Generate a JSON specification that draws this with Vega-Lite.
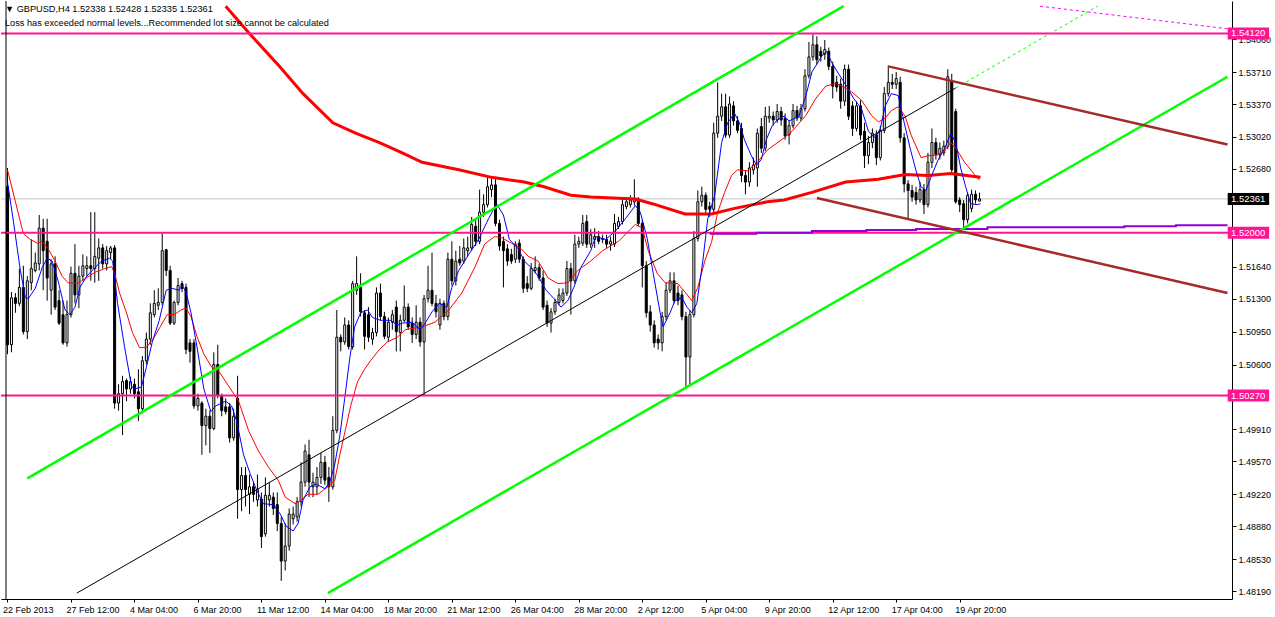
{
"$schema":"https://vega.github.io/schema/vega-lite/v6.json",
"width":1231,"height":598,
"autosize":{"type":"none"},
"padding":{"left":1,"top":1,"right":43,"bottom":18},
"background":"white",
"config":{"view":{"stroke":null},"axis":{"labelFont":"Liberation Sans","labelFontSize":9,"labelColor":"#000000","tickColor":"#000000","domainColor":"#000000","domainWidth":1,"tickWidth":1,"grid":false}},
"title":{"text":["▼ GBPUSD,H4  1.52338 1.52428 1.52335 1.52361","Loss has exceeded normal levels...Recommended lot size cannot be calculated"],"anchor":"start","frame":"group","orient":"top","offset":-28,"baseline":"top","font":"Liberation Sans","fontSize":9.2,"fontWeight":"normal","color":"#000000","lineHeight":14,"dx":4},
"resolve":{"axis":{"x":"independent","y":"independent"}},
"datasets":{
"levels":[{"p":1.5412,"t":"1.54120","k":"level"},{"p":1.52,"t":"1.52000","k":"level"},{"p":1.5027,"t":"1.50270","k":"level"},{"p":1.52361,"t":"1.52361","k":"price"}],
"candles":[
{"i":0,"o":1.5249,"h":1.5269,"l":1.5071,"c":1.5081},
{"i":1,"o":1.5081,"h":1.5137,"l":1.5073,"c":1.5131},
{"i":2,"o":1.5131,"h":1.5136,"l":1.5115,"c":1.5125},
{"i":3,"o":1.5125,"h":1.5162,"l":1.5122,"c":1.5142},
{"i":4,"o":1.5142,"h":1.5165,"l":1.5092,"c":1.5095},
{"i":5,"o":1.5095,"h":1.5154,"l":1.5087,"c":1.5149},
{"i":6,"o":1.5147,"h":1.5193,"l":1.5139,"c":1.5162},
{"i":7,"o":1.516,"h":1.5179,"l":1.5158,"c":1.5168},
{"i":8,"o":1.5167,"h":1.5219,"l":1.516,"c":1.5205},
{"i":9,"o":1.5205,"h":1.5215,"l":1.5139,"c":1.5181},
{"i":10,"o":1.5191,"h":1.5215,"l":1.5128,"c":1.5152},
{"i":11,"o":1.5139,"h":1.5172,"l":1.5113,"c":1.5167},
{"i":12,"o":1.5167,"h":1.5175,"l":1.5118,"c":1.5121},
{"i":13,"o":1.5128,"h":1.5139,"l":1.5102,"c":1.5104},
{"i":14,"o":1.5113,"h":1.5128,"l":1.5081,"c":1.5083},
{"i":15,"o":1.5083,"h":1.5128,"l":1.5079,"c":1.5113},
{"i":16,"o":1.5113,"h":1.5164,"l":1.511,"c":1.5157},
{"i":17,"o":1.5157,"h":1.5188,"l":1.5125,"c":1.5134},
{"i":18,"o":1.5134,"h":1.5165,"l":1.512,"c":1.5154},
{"i":19,"o":1.5154,"h":1.5177,"l":1.5149,"c":1.5165},
{"i":20,"o":1.5162,"h":1.5175,"l":1.5154,"c":1.5165},
{"i":21,"o":1.5165,"h":1.5222,"l":1.5149,"c":1.5162},
{"i":22,"o":1.5162,"h":1.5222,"l":1.5147,"c":1.5175},
{"i":23,"o":1.5173,"h":1.5194,"l":1.5149,"c":1.5184},
{"i":24,"o":1.5184,"h":1.5188,"l":1.5162,"c":1.5167},
{"i":25,"o":1.5167,"h":1.5186,"l":1.516,"c":1.5181},
{"i":26,"o":1.5179,"h":1.5186,"l":1.5172,"c":1.5184},
{"i":27,"o":1.5184,"h":1.5187,"l":1.5013,"c":1.5019},
{"i":28,"o":1.5019,"h":1.5039,"l":1.5011,"c":1.5029},
{"i":29,"o":1.5029,"h":1.5048,"l":1.4985,"c":1.5042},
{"i":30,"o":1.5043,"h":1.5045,"l":1.5021,"c":1.5034},
{"i":31,"o":1.5034,"h":1.5047,"l":1.5029,"c":1.5042},
{"i":32,"o":1.5039,"h":1.5045,"l":1.5024,"c":1.5029},
{"i":33,"o":1.5031,"h":1.5055,"l":1.5,"c":1.5013},
{"i":34,"o":1.5013,"h":1.5069,"l":1.5008,"c":1.5064},
{"i":35,"o":1.5064,"h":1.5094,"l":1.506,"c":1.5087},
{"i":36,"o":1.5087,"h":1.5125,"l":1.5081,"c":1.5115},
{"i":37,"o":1.5113,"h":1.5139,"l":1.511,"c":1.5125},
{"i":38,"o":1.5123,"h":1.5141,"l":1.5118,"c":1.5126},
{"i":39,"o":1.5126,"h":1.5199,"l":1.5123,"c":1.5181},
{"i":40,"o":1.5182,"h":1.5183,"l":1.5154,"c":1.516},
{"i":41,"o":1.516,"h":1.5165,"l":1.5102,"c":1.5104},
{"i":42,"o":1.5104,"h":1.5128,"l":1.5102,"c":1.5126},
{"i":43,"o":1.5126,"h":1.5152,"l":1.5123,"c":1.5144},
{"i":44,"o":1.5146,"h":1.5149,"l":1.5137,"c":1.5141},
{"i":45,"o":1.5142,"h":1.5146,"l":1.5071,"c":1.5076},
{"i":46,"o":1.5083,"h":1.5087,"l":1.5062,"c":1.5074},
{"i":47,"o":1.5083,"h":1.5087,"l":1.5013,"c":1.5016},
{"i":48,"o":1.5016,"h":1.5029,"l":1.5011,"c":1.5024},
{"i":49,"o":1.5019,"h":1.5021,"l":1.4964,"c":1.4995},
{"i":50,"o":1.4995,"h":1.5013,"l":1.4974,"c":1.5005},
{"i":51,"o":1.5005,"h":1.5011,"l":1.4966,"c":1.4992},
{"i":52,"o":1.4992,"h":1.5073,"l":1.499,"c":1.506},
{"i":53,"o":1.506,"h":1.5081,"l":1.5024,"c":1.5027},
{"i":54,"o":1.5026,"h":1.5029,"l":1.5005,"c":1.5011},
{"i":55,"o":1.5015,"h":1.5024,"l":1.5007,"c":1.501},
{"i":56,"o":1.5015,"h":1.5019,"l":1.4977,"c":1.4982},
{"i":57,"o":1.4982,"h":1.5013,"l":1.4979,"c":1.5005},
{"i":58,"o":1.5024,"h":1.5048,"l":1.4896,"c":1.4927},
{"i":59,"o":1.4927,"h":1.4951,"l":1.4904,"c":1.4942},
{"i":60,"o":1.4942,"h":1.4951,"l":1.4909,"c":1.4927},
{"i":61,"o":1.4922,"h":1.4943,"l":1.4901,"c":1.493},
{"i":62,"o":1.493,"h":1.4935,"l":1.4914,"c":1.4922},
{"i":63,"o":1.4916,"h":1.4943,"l":1.4909,"c":1.4927},
{"i":64,"o":1.4917,"h":1.4924,"l":1.4865,"c":1.4877},
{"i":65,"o":1.488,"h":1.494,"l":1.4877,"c":1.4921},
{"i":66,"o":1.4916,"h":1.4935,"l":1.4909,"c":1.4921},
{"i":67,"o":1.4919,"h":1.4924,"l":1.49,"c":1.4907},
{"i":68,"o":1.4911,"h":1.4924,"l":1.4883,"c":1.4891},
{"i":69,"o":1.4891,"h":1.4898,"l":1.483,"c":1.4851},
{"i":70,"o":1.4851,"h":1.4891,"l":1.4841,"c":1.4867},
{"i":71,"o":1.4867,"h":1.4907,"l":1.4862,"c":1.4901},
{"i":72,"o":1.4896,"h":1.4909,"l":1.489,"c":1.4901},
{"i":73,"o":1.4898,"h":1.4919,"l":1.4893,"c":1.4914},
{"i":74,"o":1.4914,"h":1.4956,"l":1.4909,"c":1.4935},
{"i":75,"o":1.4935,"h":1.4975,"l":1.493,"c":1.4968},
{"i":76,"o":1.4964,"h":1.498,"l":1.4919,"c":1.4935},
{"i":77,"o":1.493,"h":1.4945,"l":1.4919,"c":1.4935},
{"i":78,"o":1.493,"h":1.4951,"l":1.4922,"c":1.494},
{"i":79,"o":1.494,"h":1.4966,"l":1.4933,"c":1.4956},
{"i":80,"o":1.4956,"h":1.4963,"l":1.4932,"c":1.4937},
{"i":81,"o":1.494,"h":1.4951,"l":1.4914,"c":1.493},
{"i":82,"o":1.493,"h":1.5005,"l":1.4927,"c":1.499},
{"i":83,"o":1.499,"h":1.5118,"l":1.4987,"c":1.5089},
{"i":84,"o":1.5089,"h":1.5092,"l":1.5074,"c":1.5084},
{"i":85,"o":1.5084,"h":1.511,"l":1.5081,"c":1.5102},
{"i":86,"o":1.5102,"h":1.5107,"l":1.5076,"c":1.5079},
{"i":87,"o":1.5079,"h":1.5149,"l":1.5076,"c":1.5146},
{"i":88,"o":1.5139,"h":1.5175,"l":1.5134,"c":1.5146},
{"i":89,"o":1.5142,"h":1.5157,"l":1.5111,"c":1.5116},
{"i":90,"o":1.5115,"h":1.5118,"l":1.5076,"c":1.509},
{"i":91,"o":1.5113,"h":1.5121,"l":1.5084,"c":1.5089},
{"i":92,"o":1.5087,"h":1.5099,"l":1.5081,"c":1.5094},
{"i":93,"o":1.5094,"h":1.5142,"l":1.509,"c":1.5136},
{"i":94,"o":1.5136,"h":1.5146,"l":1.5107,"c":1.5111},
{"i":95,"o":1.5111,"h":1.5116,"l":1.5087,"c":1.509},
{"i":96,"o":1.5089,"h":1.511,"l":1.5084,"c":1.5105},
{"i":97,"o":1.5105,"h":1.5118,"l":1.5097,"c":1.5113},
{"i":98,"o":1.5121,"h":1.5128,"l":1.5074,"c":1.5095},
{"i":99,"o":1.5094,"h":1.5113,"l":1.5074,"c":1.5107},
{"i":100,"o":1.5107,"h":1.5144,"l":1.5105,"c":1.5121},
{"i":101,"o":1.5121,"h":1.5125,"l":1.5097,"c":1.51},
{"i":102,"o":1.5104,"h":1.511,"l":1.5083,"c":1.5092},
{"i":103,"o":1.5092,"h":1.5123,"l":1.5087,"c":1.5105},
{"i":104,"o":1.5105,"h":1.511,"l":1.5079,"c":1.5084},
{"i":105,"o":1.5084,"h":1.5134,"l":1.5027,"c":1.513},
{"i":106,"o":1.513,"h":1.5165,"l":1.5126,"c":1.5139},
{"i":107,"o":1.5139,"h":1.5179,"l":1.5122,"c":1.5125},
{"i":108,"o":1.5125,"h":1.5134,"l":1.511,"c":1.5116},
{"i":109,"o":1.5102,"h":1.513,"l":1.5097,"c":1.5125},
{"i":110,"o":1.5125,"h":1.5128,"l":1.5107,"c":1.5111},
{"i":111,"o":1.5111,"h":1.5179,"l":1.5107,"c":1.5172},
{"i":112,"o":1.5172,"h":1.5191,"l":1.5144,"c":1.5149},
{"i":113,"o":1.5149,"h":1.5181,"l":1.5144,"c":1.517},
{"i":114,"o":1.5172,"h":1.5186,"l":1.5165,"c":1.5168},
{"i":115,"o":1.517,"h":1.5194,"l":1.5167,"c":1.5184},
{"i":116,"o":1.5181,"h":1.5196,"l":1.5175,"c":1.5184},
{"i":117,"o":1.5184,"h":1.5217,"l":1.5181,"c":1.5209},
{"i":118,"o":1.5207,"h":1.5214,"l":1.5186,"c":1.5191},
{"i":119,"o":1.5191,"h":1.5246,"l":1.5188,"c":1.5222},
{"i":120,"o":1.5222,"h":1.5241,"l":1.5217,"c":1.523},
{"i":121,"o":1.523,"h":1.5259,"l":1.5227,"c":1.5249},
{"i":122,"o":1.5246,"h":1.5258,"l":1.5238,"c":1.5251},
{"i":123,"o":1.5251,"h":1.5257,"l":1.5207,"c":1.521},
{"i":124,"o":1.521,"h":1.5214,"l":1.5181,"c":1.5186},
{"i":125,"o":1.5191,"h":1.5196,"l":1.5142,"c":1.5181},
{"i":126,"o":1.5183,"h":1.5188,"l":1.5165,"c":1.517},
{"i":127,"o":1.5177,"h":1.5183,"l":1.5167,"c":1.517},
{"i":128,"o":1.5172,"h":1.5191,"l":1.5168,"c":1.5188},
{"i":129,"o":1.5189,"h":1.5193,"l":1.5168,"c":1.5172},
{"i":130,"o":1.5172,"h":1.5175,"l":1.5136,"c":1.5141},
{"i":131,"o":1.5146,"h":1.5154,"l":1.5137,"c":1.5141},
{"i":132,"o":1.5141,"h":1.5168,"l":1.5139,"c":1.5162},
{"i":133,"o":1.516,"h":1.5175,"l":1.5157,"c":1.5163},
{"i":134,"o":1.5163,"h":1.5167,"l":1.5149,"c":1.5152},
{"i":135,"o":1.5152,"h":1.516,"l":1.5118,"c":1.5121},
{"i":136,"o":1.5123,"h":1.5128,"l":1.51,"c":1.5104},
{"i":137,"o":1.5104,"h":1.512,"l":1.5094,"c":1.5116},
{"i":138,"o":1.5116,"h":1.513,"l":1.5113,"c":1.5126},
{"i":139,"o":1.5126,"h":1.5141,"l":1.5123,"c":1.5134},
{"i":140,"o":1.5128,"h":1.5141,"l":1.5125,"c":1.5136},
{"i":141,"o":1.5136,"h":1.517,"l":1.5133,"c":1.5162},
{"i":142,"o":1.5162,"h":1.5168,"l":1.5113,"c":1.5149},
{"i":143,"o":1.5149,"h":1.5198,"l":1.5146,"c":1.5188},
{"i":144,"o":1.5188,"h":1.5196,"l":1.5184,"c":1.5191},
{"i":145,"o":1.5189,"h":1.5219,"l":1.5186,"c":1.521},
{"i":146,"o":1.5212,"h":1.5219,"l":1.5184,"c":1.5188},
{"i":147,"o":1.5188,"h":1.5204,"l":1.5184,"c":1.5198},
{"i":148,"o":1.5193,"h":1.5205,"l":1.5184,"c":1.5196},
{"i":149,"o":1.5196,"h":1.5202,"l":1.5188,"c":1.5191},
{"i":150,"o":1.5193,"h":1.5198,"l":1.5189,"c":1.5194},
{"i":151,"o":1.5193,"h":1.5198,"l":1.5184,"c":1.5188},
{"i":152,"o":1.5188,"h":1.5196,"l":1.5181,"c":1.5191},
{"i":153,"o":1.5188,"h":1.522,"l":1.5185,"c":1.521},
{"i":154,"o":1.5207,"h":1.5217,"l":1.5204,"c":1.5212},
{"i":155,"o":1.5212,"h":1.5236,"l":1.5209,"c":1.523},
{"i":156,"o":1.5228,"h":1.5238,"l":1.5225,"c":1.5233},
{"i":157,"o":1.523,"h":1.524,"l":1.5227,"c":1.5235},
{"i":158,"o":1.5233,"h":1.5257,"l":1.5229,"c":1.5236},
{"i":159,"o":1.5236,"h":1.5238,"l":1.5207,"c":1.521},
{"i":160,"o":1.521,"h":1.5214,"l":1.5142,"c":1.5165},
{"i":161,"o":1.5165,"h":1.517,"l":1.511,"c":1.5115},
{"i":162,"o":1.5116,"h":1.5123,"l":1.5095,"c":1.5102},
{"i":163,"o":1.5102,"h":1.5107,"l":1.5078,"c":1.5083},
{"i":164,"o":1.5087,"h":1.5092,"l":1.5076,"c":1.5083},
{"i":165,"o":1.5083,"h":1.5116,"l":1.5074,"c":1.5111},
{"i":166,"o":1.5111,"h":1.5147,"l":1.5107,"c":1.5139},
{"i":167,"o":1.5139,"h":1.5158,"l":1.5136,"c":1.5149},
{"i":168,"o":1.5149,"h":1.5158,"l":1.5125,"c":1.5128},
{"i":169,"o":1.5136,"h":1.5144,"l":1.5123,"c":1.5128},
{"i":170,"o":1.5134,"h":1.5139,"l":1.5107,"c":1.5111},
{"i":171,"o":1.5111,"h":1.5116,"l":1.5034,"c":1.5068},
{"i":172,"o":1.5068,"h":1.5118,"l":1.5039,"c":1.5113},
{"i":173,"o":1.5113,"h":1.5202,"l":1.511,"c":1.5194},
{"i":174,"o":1.5194,"h":1.5245,"l":1.5191,"c":1.5233},
{"i":175,"o":1.5233,"h":1.5249,"l":1.5228,"c":1.524},
{"i":176,"o":1.524,"h":1.5243,"l":1.522,"c":1.5225},
{"i":177,"o":1.5228,"h":1.5233,"l":1.5217,"c":1.5225},
{"i":178,"o":1.5225,"h":1.5317,"l":1.5222,"c":1.5306},
{"i":179,"o":1.5306,"h":1.536,"l":1.5301,"c":1.5324},
{"i":180,"o":1.5324,"h":1.5348,"l":1.5319,"c":1.5334},
{"i":181,"o":1.5334,"h":1.5348,"l":1.5301,"c":1.5304},
{"i":182,"o":1.5304,"h":1.5345,"l":1.5301,"c":1.5337},
{"i":183,"o":1.5335,"h":1.534,"l":1.5314,"c":1.5319},
{"i":184,"o":1.5319,"h":1.5324,"l":1.5306,"c":1.5309},
{"i":185,"o":1.5311,"h":1.5317,"l":1.5254,"c":1.5261},
{"i":186,"o":1.5261,"h":1.5266,"l":1.5241,"c":1.5254},
{"i":187,"o":1.5254,"h":1.5275,"l":1.5249,"c":1.5269},
{"i":188,"o":1.5267,"h":1.528,"l":1.5262,"c":1.5272},
{"i":189,"o":1.5269,"h":1.5311,"l":1.5249,"c":1.5306},
{"i":190,"o":1.5313,"h":1.5322,"l":1.5285,"c":1.529},
{"i":191,"o":1.529,"h":1.5334,"l":1.5287,"c":1.5324},
{"i":192,"o":1.5322,"h":1.5335,"l":1.5317,"c":1.5324},
{"i":193,"o":1.5324,"h":1.5329,"l":1.5314,"c":1.532},
{"i":194,"o":1.532,"h":1.5337,"l":1.5317,"c":1.5329},
{"i":195,"o":1.5329,"h":1.5334,"l":1.5314,"c":1.532},
{"i":196,"o":1.5322,"h":1.5327,"l":1.5299,"c":1.5303},
{"i":197,"o":1.5304,"h":1.532,"l":1.5294,"c":1.5314},
{"i":198,"o":1.5314,"h":1.5337,"l":1.5311,"c":1.533},
{"i":199,"o":1.533,"h":1.5335,"l":1.5319,"c":1.5322},
{"i":200,"o":1.5322,"h":1.5337,"l":1.5319,"c":1.5332},
{"i":201,"o":1.5332,"h":1.5374,"l":1.5329,"c":1.5367},
{"i":202,"o":1.5367,"h":1.5403,"l":1.5364,"c":1.5387},
{"i":203,"o":1.5387,"h":1.5411,"l":1.5383,"c":1.54},
{"i":204,"o":1.54,"h":1.5409,"l":1.5379,"c":1.5384},
{"i":205,"o":1.5393,"h":1.5398,"l":1.5382,"c":1.5388},
{"i":206,"o":1.539,"h":1.5405,"l":1.5384,"c":1.5395},
{"i":207,"o":1.5393,"h":1.5397,"l":1.5373,"c":1.5377},
{"i":208,"o":1.5377,"h":1.5382,"l":1.5343,"c":1.5356},
{"i":209,"o":1.536,"h":1.5367,"l":1.535,"c":1.5355},
{"i":210,"o":1.5358,"h":1.5364,"l":1.5332,"c":1.534},
{"i":211,"o":1.534,"h":1.5379,"l":1.5335,"c":1.5374},
{"i":212,"o":1.5374,"h":1.5379,"l":1.532,"c":1.5324},
{"i":213,"o":1.5335,"h":1.534,"l":1.5303,"c":1.5311},
{"i":214,"o":1.5311,"h":1.534,"l":1.5308,"c":1.5335},
{"i":215,"o":1.5335,"h":1.5341,"l":1.5299,"c":1.5304},
{"i":216,"o":1.5308,"h":1.5317,"l":1.5269,"c":1.5282},
{"i":217,"o":1.5282,"h":1.5303,"l":1.5273,"c":1.5296},
{"i":218,"o":1.5296,"h":1.5311,"l":1.529,"c":1.5306},
{"i":219,"o":1.5304,"h":1.5309,"l":1.5272,"c":1.528},
{"i":220,"o":1.528,"h":1.5314,"l":1.5277,"c":1.5309},
{"i":221,"o":1.5309,"h":1.5355,"l":1.5306,"c":1.5348},
{"i":222,"o":1.5348,"h":1.5378,"l":1.5345,"c":1.536},
{"i":223,"o":1.536,"h":1.5369,"l":1.5353,"c":1.5358},
{"i":224,"o":1.5358,"h":1.5371,"l":1.5353,"c":1.5364},
{"i":225,"o":1.536,"h":1.5366,"l":1.5296,"c":1.5301},
{"i":226,"o":1.5301,"h":1.5306,"l":1.5243,"c":1.5252},
{"i":227,"o":1.5252,"h":1.5256,"l":1.5215,"c":1.5245},
{"i":228,"o":1.5245,"h":1.5251,"l":1.5233,"c":1.5238},
{"i":229,"o":1.5243,"h":1.5249,"l":1.523,"c":1.5235},
{"i":230,"o":1.5235,"h":1.5254,"l":1.5232,"c":1.5246},
{"i":231,"o":1.5246,"h":1.5252,"l":1.522,"c":1.523},
{"i":232,"o":1.523,"h":1.5285,"l":1.5227,"c":1.5275},
{"i":233,"o":1.5275,"h":1.5311,"l":1.5269,"c":1.5296},
{"i":234,"o":1.5296,"h":1.5301,"l":1.5278,"c":1.5283},
{"i":235,"o":1.5283,"h":1.5296,"l":1.5278,"c":1.529},
{"i":236,"o":1.5285,"h":1.5298,"l":1.5282,"c":1.5292},
{"i":237,"o":1.5292,"h":1.5374,"l":1.5289,"c":1.5366},
{"i":238,"o":1.5361,"h":1.5369,"l":1.5264,"c":1.5267},
{"i":239,"o":1.5329,"h":1.5332,"l":1.5231,"c":1.5233},
{"i":240,"o":1.5235,"h":1.5238,"l":1.5222,"c":1.523},
{"i":241,"o":1.5231,"h":1.5235,"l":1.5204,"c":1.5214},
{"i":242,"o":1.5214,"h":1.5243,"l":1.521,"c":1.524},
{"i":243,"o":1.5226,"h":1.5246,"l":1.5222,"c":1.5241},
{"i":244,"o":1.5241,"h":1.5245,"l":1.5231,"c":1.5235},
{"i":245,"o":1.52338,"h":1.52428,"l":1.52335,"c":1.52361}
],
"maSlow":[{"i":0,"p":1.5267},{"i":2,"p":1.5233},{"i":4,"p":1.5199},{"i":5.75,"p":1.5193},{"i":7.5,"p":1.5189},{"i":8.75,"p":1.5191},{"i":10.25,"p":1.5183},{"i":12,"p":1.517},{"i":13.75,"p":1.5154},{"i":15.25,"p":1.5147},{"i":17.5,"p":1.5146},{"i":19.5,"p":1.5151},{"i":22,"p":1.5158},{"i":24.5,"p":1.5162},{"i":26.25,"p":1.5164},{"i":27,"p":1.5157},{"i":28.25,"p":1.5136},{"i":30,"p":1.5115},{"i":31.5,"p":1.5094},{"i":33.25,"p":1.5078},{"i":35,"p":1.5078},{"i":37,"p":1.5089},{"i":38.75,"p":1.5102},{"i":40.25,"p":1.5113},{"i":42,"p":1.5113},{"i":43.75,"p":1.5118},{"i":45,"p":1.512},{"i":46.25,"p":1.5111},{"i":47.75,"p":1.509},{"i":49.5,"p":1.5071},{"i":51.5,"p":1.5057},{"i":53.25,"p":1.5053},{"i":55.75,"p":1.5037},{"i":58.25,"p":1.5021},{"i":60.75,"p":1.499},{"i":63.25,"p":1.4968},{"i":65.75,"p":1.4951},{"i":68.25,"p":1.4937},{"i":70,"p":1.4919},{"i":72.5,"p":1.4912},{"i":74,"p":1.4916},{"i":75.75,"p":1.4922},{"i":78.25,"p":1.4922},{"i":80.75,"p":1.493},{"i":82.5,"p":1.4937},{"i":83.75,"p":1.4964},{"i":85.25,"p":1.4992},{"i":86.5,"p":1.5016},{"i":88.25,"p":1.5042},{"i":90,"p":1.5055},{"i":91.5,"p":1.5064},{"i":93.75,"p":1.5076},{"i":95.75,"p":1.5084},{"i":98.25,"p":1.5089},{"i":100.25,"p":1.5097},{"i":104.5,"p":1.51},{"i":107.75,"p":1.5105},{"i":111.25,"p":1.5118},{"i":114.5,"p":1.5136},{"i":117.75,"p":1.5163},{"i":120.25,"p":1.5188},{"i":122.75,"p":1.5196},{"i":124.5,"p":1.5195},{"i":127,"p":1.5189},{"i":129.5,"p":1.5183},{"i":131.25,"p":1.5175},{"i":133.75,"p":1.517},{"i":136.25,"p":1.5152},{"i":138.75,"p":1.5146},{"i":141.25,"p":1.5147},{"i":143.75,"p":1.516},{"i":147,"p":1.517},{"i":150,"p":1.5181},{"i":154,"p":1.5191},{"i":158.25,"p":1.5209},{"i":160,"p":1.5205},{"i":161.5,"p":1.5181},{"i":163.75,"p":1.5157},{"i":165.75,"p":1.5147},{"i":169,"p":1.5146},{"i":170.75,"p":1.5137},{"i":172.5,"p":1.5128},{"i":174,"p":1.5142},{"i":175.75,"p":1.517},{"i":177.5,"p":1.5191},{"i":179,"p":1.5222},{"i":180.75,"p":1.5243},{"i":182.5,"p":1.5261},{"i":184,"p":1.5267},{"i":186.5,"p":1.5266},{"i":189,"p":1.5275},{"i":191.5,"p":1.5288},{"i":195.75,"p":1.5301},{"i":197.75,"p":1.5308},{"i":201.25,"p":1.5325},{"i":203.75,"p":1.5343},{"i":206.25,"p":1.5356},{"i":208.75,"p":1.5359},{"i":210.25,"p":1.5356},{"i":212.75,"p":1.535},{"i":215.25,"p":1.5341},{"i":217.75,"p":1.5325},{"i":219.5,"p":1.5318},{"i":221.25,"p":1.5322},{"i":222.75,"p":1.533},{"i":224.5,"p":1.5334},{"i":226.25,"p":1.5324},{"i":227.75,"p":1.5304},{"i":230.25,"p":1.528},{"i":232,"p":1.5282},{"i":234.5,"p":1.5283},{"i":236.25,"p":1.5288},{"i":237.75,"p":1.5296},{"i":239.5,"p":1.5287},{"i":241.25,"p":1.5275},{"i":243.75,"p":1.5262},{"i":245,"p":1.5256}],
"maFast":[{"i":0,"p":1.5254},{"i":1.5,"p":1.5212},{"i":3.25,"p":1.516},{"i":4.5,"p":1.5131},{"i":5.25,"p":1.513},{"i":7,"p":1.5141},{"i":8.75,"p":1.5163},{"i":10,"p":1.5173},{"i":11.25,"p":1.517},{"i":12.75,"p":1.5149},{"i":14.5,"p":1.5118},{"i":15.75,"p":1.5113},{"i":17,"p":1.5121},{"i":18.25,"p":1.5142},{"i":20,"p":1.5154},{"i":22,"p":1.5163},{"i":23.75,"p":1.517},{"i":25.75,"p":1.5173},{"i":26.5,"p":1.517},{"i":27.75,"p":1.5125},{"i":29.5,"p":1.5079},{"i":31.25,"p":1.5037},{"i":32,"p":1.5034},{"i":33.75,"p":1.5036},{"i":35,"p":1.5057},{"i":36.5,"p":1.5084},{"i":38.25,"p":1.5107},{"i":40,"p":1.5139},{"i":41.5,"p":1.5141},{"i":43.25,"p":1.5139},{"i":44,"p":1.5144},{"i":45,"p":1.5137},{"i":46.25,"p":1.5115},{"i":47.75,"p":1.5079},{"i":49.5,"p":1.5034},{"i":50,"p":1.5027},{"i":51.25,"p":1.501},{"i":52.5,"p":1.5016},{"i":55,"p":1.5021},{"i":56.5,"p":1.5016},{"i":57.75,"p":1.5},{"i":59.5,"p":1.4964},{"i":61.25,"p":1.4943},{"i":62.75,"p":1.4927},{"i":64.5,"p":1.4912},{"i":67,"p":1.4911},{"i":68.75,"p":1.4901},{"i":70.25,"p":1.4888},{"i":72,"p":1.4883},{"i":73.25,"p":1.4891},{"i":74.5,"p":1.4916},{"i":76.25,"p":1.493},{"i":77.75,"p":1.4933},{"i":80,"p":1.4928},{"i":81.25,"p":1.4935},{"i":82.5,"p":1.4954},{"i":83.75,"p":1.4984},{"i":85,"p":1.5024},{"i":86.25,"p":1.5066},{"i":87.5,"p":1.51},{"i":89,"p":1.5115},{"i":90.75,"p":1.5118},{"i":92,"p":1.511},{"i":94,"p":1.5107},{"i":96.5,"p":1.5107},{"i":98.25,"p":1.5102},{"i":99.5,"p":1.5104},{"i":102,"p":1.5105},{"i":104,"p":1.5097},{"i":105.25,"p":1.5104},{"i":107,"p":1.5116},{"i":108.75,"p":1.5125},{"i":110.75,"p":1.5121},{"i":112,"p":1.5142},{"i":113.75,"p":1.516},{"i":116.25,"p":1.5177},{"i":118.75,"p":1.5193},{"i":121.25,"p":1.5215},{"i":123.25,"p":1.5231},{"i":125,"p":1.5219},{"i":126.5,"p":1.5193},{"i":128.75,"p":1.5183},{"i":130.25,"p":1.517},{"i":132,"p":1.5163},{"i":133.75,"p":1.5154},{"i":135.75,"p":1.5139},{"i":137.75,"p":1.513},{"i":139.5,"p":1.5121},{"i":141.25,"p":1.5128},{"i":142.75,"p":1.5142},{"i":144.5,"p":1.5163},{"i":147,"p":1.5181},{"i":148.25,"p":1.5196},{"i":150.75,"p":1.5193},{"i":153.25,"p":1.5202},{"i":155.75,"p":1.5215},{"i":158.25,"p":1.5229},{"i":159.5,"p":1.5222},{"i":161.25,"p":1.5194},{"i":162.75,"p":1.5157},{"i":164.5,"p":1.5115},{"i":165.25,"p":1.51},{"i":167,"p":1.5115},{"i":168.25,"p":1.5128},{"i":170,"p":1.5131},{"i":171.25,"p":1.5121},{"i":172.5,"p":1.5115},{"i":173.75,"p":1.5125},{"i":175.25,"p":1.517},{"i":176.5,"p":1.5215},{"i":178.25,"p":1.524},{"i":180,"p":1.5296},{"i":181.5,"p":1.5317},{"i":183.25,"p":1.5327},{"i":184.5,"p":1.5317},{"i":185.75,"p":1.5299},{"i":187.5,"p":1.5282},{"i":188.75,"p":1.5272},{"i":190,"p":1.5278},{"i":191.25,"p":1.5299},{"i":192.75,"p":1.5314},{"i":194,"p":1.532},{"i":195.75,"p":1.5324},{"i":197,"p":1.5319},{"i":199.5,"p":1.5324},{"i":201.25,"p":1.5346},{"i":202.75,"p":1.5371},{"i":205.25,"p":1.5388},{"i":206.5,"p":1.5393},{"i":207.75,"p":1.5381},{"i":209.5,"p":1.5369},{"i":211.5,"p":1.5356},{"i":213.25,"p":1.5343},{"i":215.25,"p":1.5332},{"i":217,"p":1.5308},{"i":218.75,"p":1.5301},{"i":220,"p":1.5311},{"i":221.25,"p":1.5335},{"i":222.75,"p":1.5348},{"i":224.5,"p":1.5346},{"i":225.75,"p":1.5322},{"i":227.5,"p":1.529},{"i":229,"p":1.5266},{"i":230.25,"p":1.5249},{"i":231.5,"p":1.5245},{"i":232.75,"p":1.5259},{"i":234.5,"p":1.5277},{"i":236.25,"p":1.529},{"i":237.75,"p":1.5306},{"i":239,"p":1.5296},{"i":240.25,"p":1.5269},{"i":241.5,"p":1.5249},{"i":242.75,"p":1.5231},{"i":244.5,"p":1.523},{"i":245.25,"p":1.5231}],
"maLong":[{"i":55,"p":1.5441},{"i":60.75,"p":1.5413},{"i":68.75,"p":1.5376},{"i":74.5,"p":1.5348},{"i":82,"p":1.5317},{"i":87.75,"p":1.5306},{"i":93.75,"p":1.5296},{"i":99.5,"p":1.5285},{"i":104.5,"p":1.5275},{"i":113.75,"p":1.5267},{"i":122,"p":1.5259},{"i":130.25,"p":1.5254},{"i":135.25,"p":1.5249},{"i":142,"p":1.524},{"i":147,"p":1.5238},{"i":158.25,"p":1.5236},{"i":162.5,"p":1.5231},{"i":170.75,"p":1.522},{"i":177.5,"p":1.522},{"i":183.25,"p":1.5226},{"i":191.5,"p":1.5233},{"i":195.75,"p":1.5235},{"i":202.75,"p":1.5243},{"i":211.25,"p":1.5254},{"i":219.5,"p":1.5257},{"i":226.25,"p":1.5262},{"i":232,"p":1.5261},{"i":237.75,"p":1.5263},{"i":245.25,"p":1.5259}],
"objects":[
{"id":"g1","i":5,"p":1.4939},{"id":"g1","i":210.75,"p":1.5441},
{"id":"g2","i":80.75,"p":1.4817},{"id":"g2","i":307.5,"p":1.5366},
{"id":"mid","i":17.5,"p":1.4817},{"id":"mid","i":239,"p":1.5354},
{"id":"midx","i":239,"p":1.5354},{"id":"midx","i":274.75,"p":1.5441},
{"id":"b1","i":222,"p":1.5377},{"id":"b1","i":307.5,"p":1.5294},
{"id":"b2","i":204,"p":1.5237},{"id":"b2","i":307.5,"p":1.5136},
{"id":"m","i":260.25,"p":1.5441},{"id":"m","i":307.5,"p":1.5417},
{"id":"pu","i":177,"p":1.5199},{"id":"pu","i":188.75,"p":1.52},{"id":"pu","i":202.75,"p":1.5202},{"id":"pu","i":216.5,"p":1.5203},{"id":"pu","i":229,"p":1.5204},{"id":"pu","i":247,"p":1.5206},{"id":"pu","i":281.5,"p":1.5207},{"id":"pu","i":294.5,"p":1.5208},{"id":"pu","i":307.5,"p":1.5208}
]
},
"layer":[
{"data":{"name":"levels"},"transform":[{"filter":"datum.k == 'price'"}],"mark":{"type":"rule","color":"#C0C0C0","strokeWidth":1},"encoding":{"y":{"field":"p","type":"quantitative","axis":null,"scale":{"domain":[1.4816,1.54412],"nice":false,"zero":false}}}},
{"data":{"name":"candles"},"mark":{"type":"rule","color":"#000000","strokeWidth":1},"encoding":{
 "x":{"field":"i","type":"quantitative","title":null,"scale":{"domain":[-0.375,307.375],"nice":false,"zero":false},"axis":{"orient":"bottom","values":[0,16,32,48,64,80,96,112,128,144,160,176,192,208,224,240],"labelExpr":"['22 Feb 2013','27 Feb 12:00','4 Mar 04:00','6 Mar 20:00','11 Mar 12:00','14 Mar 04:00','18 Mar 20:00','21 Mar 12:00','26 Mar 04:00','28 Mar 20:00','2 Apr 12:00','5 Apr 04:00','9 Apr 20:00','12 Apr 12:00','17 Apr 04:00','19 Apr 20:00'][round(datum.value/16)]","labelAlign":"left","labelBaseline":"top","labelPadding":3,"labelOffset":-5,"tickSize":3,"labelOverlap":false,"labelFlush":false,"title":null}},
 "y":{"field":"l","type":"quantitative","title":null,"scale":{"domain":[1.4816,1.54412],"nice":false,"zero":false},"axis":{"orient":"right","values":[1.5406,1.5371,1.5337,1.5302,1.5268,1.5164,1.513,1.5095,1.506,1.4991,1.4957,1.4922,1.4888,1.4853,1.4819],"format":".5f","tickSize":4,"labelPadding":2,"labelBaseline":"middle","title":null}},
 "y2":{"field":"h"}}},
{"data":{"name":"candles"},"mark":{"type":"bar","width":2,"stroke":"#000000","strokeWidth":1},"encoding":{
 "x":{"field":"i","type":"quantitative","axis":null},
 "y":{"field":"o","type":"quantitative","axis":null},
 "y2":{"field":"c"},
 "fill":{"condition":{"test":"datum.c >= datum.o","value":"#FFFFFF"},"value":"#000000"}}},
{"data":{"name":"maLong"},"mark":{"type":"line","color":"#FF0000","strokeWidth":3,"clip":true},"encoding":{"x":{"field":"i","type":"quantitative","axis":null},"y":{"field":"p","type":"quantitative","axis":null}}},
{"data":{"name":"maSlow"},"mark":{"type":"line","color":"#FF0000","strokeWidth":1,"clip":true},"encoding":{"x":{"field":"i","type":"quantitative","axis":null},"y":{"field":"p","type":"quantitative","axis":null}}},
{"data":{"name":"maFast"},"mark":{"type":"line","color":"#0000FF","strokeWidth":1,"clip":true},"encoding":{"x":{"field":"i","type":"quantitative","axis":null},"y":{"field":"p","type":"quantitative","axis":null}}},
{"data":{"name":"levels"},"transform":[{"filter":"datum.k == 'level'"}],"mark":{"type":"rule","color":"#FF1493","strokeWidth":2},"encoding":{"y":{"field":"p","type":"quantitative","axis":null}}},
{"data":{"name":"objects"},"transform":[{"filter":"datum.id == 'pu'"}],"mark":{"type":"line","color":"#9400D3","strokeWidth":2,"interpolate":"step-after","clip":true},"encoding":{"x":{"field":"i","type":"quantitative","axis":null},"y":{"field":"p","type":"quantitative","axis":null}}},
{"data":{"name":"objects"},"transform":[{"filter":"datum.id == 'mid'"}],"mark":{"type":"line","color":"#000000","strokeWidth":1,"clip":true},"encoding":{"x":{"field":"i","type":"quantitative","axis":null},"y":{"field":"p","type":"quantitative","axis":null}}},
{"data":{"name":"objects"},"transform":[{"filter":"datum.id == 'midx'"}],"mark":{"type":"line","color":"#00FF00","strokeWidth":1,"strokeDash":[3,3],"clip":true},"encoding":{"x":{"field":"i","type":"quantitative","axis":null},"y":{"field":"p","type":"quantitative","axis":null}}},
{"data":{"name":"objects"},"transform":[{"filter":"datum.id == 'g1' || datum.id == 'g2'"}],"mark":{"type":"line","color":"#00FF00","strokeWidth":2.5,"clip":true},"encoding":{"x":{"field":"i","type":"quantitative","axis":null},"y":{"field":"p","type":"quantitative","axis":null},"detail":{"field":"id"}}},
{"data":{"name":"objects"},"transform":[{"filter":"datum.id == 'b1' || datum.id == 'b2'"}],"mark":{"type":"line","color":"#A52A2A","strokeWidth":2.5,"clip":true},"encoding":{"x":{"field":"i","type":"quantitative","axis":null},"y":{"field":"p","type":"quantitative","axis":null},"detail":{"field":"id"}}},
{"data":{"name":"objects"},"transform":[{"filter":"datum.id == 'm'"}],"mark":{"type":"line","color":"#FF00FF","strokeWidth":1,"strokeDash":[3,3],"clip":true},"encoding":{"x":{"field":"i","type":"quantitative","axis":null},"y":{"field":"p","type":"quantitative","axis":null}}},
{"data":{"name":"levels"},"transform":[{"filter":"datum.k == 'price'"}],"mark":{"type":"rule","color":"#000000","strokeWidth":1},"encoding":{"x":{"datum":-0.375,"type":"quantitative","axis":null}}},
{"data":{"name":"levels"},"mark":{"type":"bar","height":12},"encoding":{"x":{"datum":307.55,"type":"quantitative","axis":null},"x2":{"datum":318},"y":{"field":"p","type":"quantitative","axis":null},"color":{"field":"k","type":"nominal","scale":{"domain":["level","price"],"range":["#FF1493","#000000"]},"legend":null}}},
{"data":{"name":"levels"},"mark":{"type":"text","align":"left","baseline":"middle","color":"#FFFFFF","font":"Liberation Sans","fontSize":9.5},"encoding":{"x":{"datum":308.4,"type":"quantitative","axis":null},"y":{"field":"p","type":"quantitative","axis":null},"text":{"field":"t"}}}
]
}
